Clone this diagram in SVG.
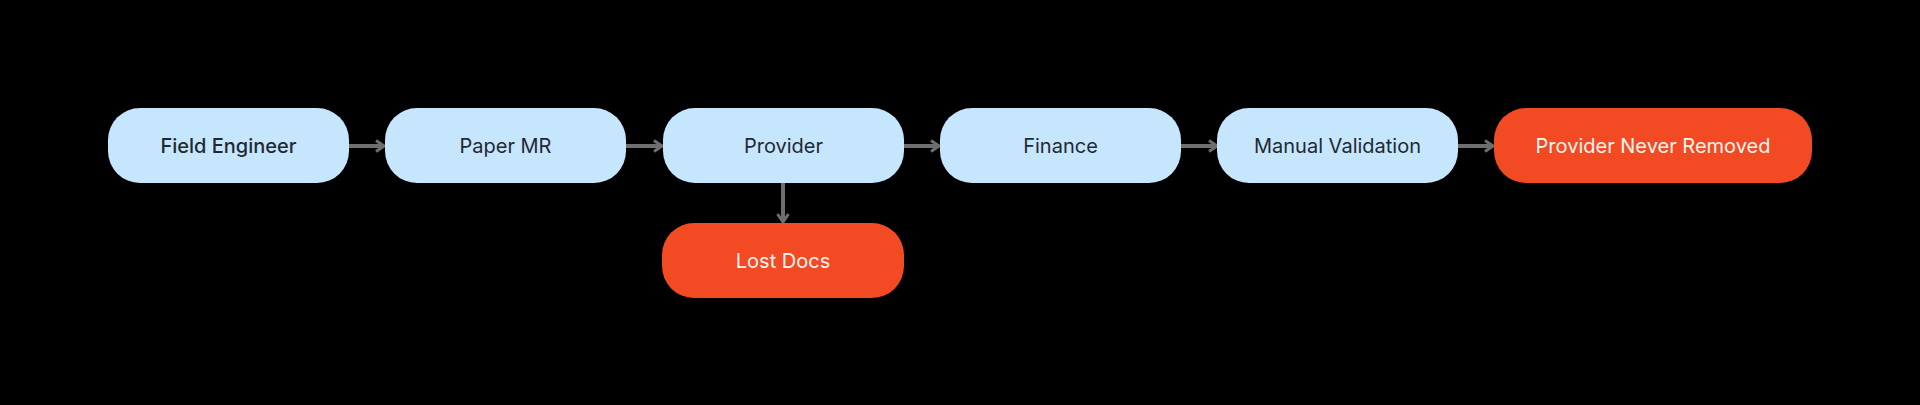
<svg xmlns="http://www.w3.org/2000/svg" width="1920" height="405" viewBox="0 0 1920 405">
  <defs>
    <style>
      .blue rect { fill: #c6e6fd; }
      .red rect { fill: #f24a22; }
      text { font-family: Inter, "Noto Sans", "Liberation Sans", sans-serif; font-size: 20px; text-anchor: middle; }
      .blue text { fill: #1f2933; }
      .red text { fill: #fff4ef; }
      .conn line { stroke: #6e6e6e; stroke-width: 4; fill: none; }
    </style>
    <marker id="arrow" viewBox="0 0 14 14" refX="12" refY="7" markerWidth="14" markerHeight="14" markerUnits="userSpaceOnUse" orient="auto">
      <polyline points="4,1.5 12,7 4,12.5" fill="none" stroke="#6e6e6e" stroke-width="3"/>
    </marker>
  </defs>
  <rect x="0" y="0" width="1920" height="405" fill="#000000"/>

  <g class="conn" id="connectors">
    <line x1="349" y1="146" x2="384" y2="146" marker-end="url(#arrow)"/>
    <line x1="626" y1="146" x2="662" y2="146" marker-end="url(#arrow)"/>
    <line x1="904" y1="146" x2="939" y2="146" marker-end="url(#arrow)"/>
    <line x1="1181" y1="146" x2="1217" y2="146" marker-end="url(#arrow)"/>
    <line x1="1458" y1="146" x2="1493" y2="146" marker-end="url(#arrow)"/>
    <line x1="783" y1="183" x2="783" y2="222" marker-end="url(#arrow)"/>
  </g>

  <g id="field-engineer" class="blue">
    <rect x="108" y="108" width="241" height="75" rx="32"/>
    <text x="228.5" y="153" font-weight="500">Field Engineer</text>
  </g>
  <g id="paper-mr" class="blue">
    <rect x="385" y="108" width="241" height="75" rx="32"/>
    <text x="505.5" y="153">Paper MR</text>
  </g>
  <g id="provider" class="blue">
    <rect x="663" y="108" width="241" height="75" rx="32"/>
    <text x="783.5" y="153">Provider</text>
  </g>
  <g id="finance" class="blue">
    <rect x="940" y="108" width="241" height="75" rx="32"/>
    <text x="1060.5" y="153">Finance</text>
  </g>
  <g id="manual-validation" class="blue">
    <rect x="1217" y="108" width="241" height="75" rx="32"/>
    <text x="1337.5" y="153">Manual Validation</text>
  </g>
  <g id="provider-never-removed" class="red">
    <rect x="1494" y="108" width="318" height="75" rx="32"/>
    <text x="1653" y="153">Provider Never Removed</text>
  </g>
  <g id="lost-docs" class="red">
    <rect x="662" y="223" width="242" height="75" rx="32"/>
    <text x="783" y="268">Lost Docs</text>
  </g>
</svg>
